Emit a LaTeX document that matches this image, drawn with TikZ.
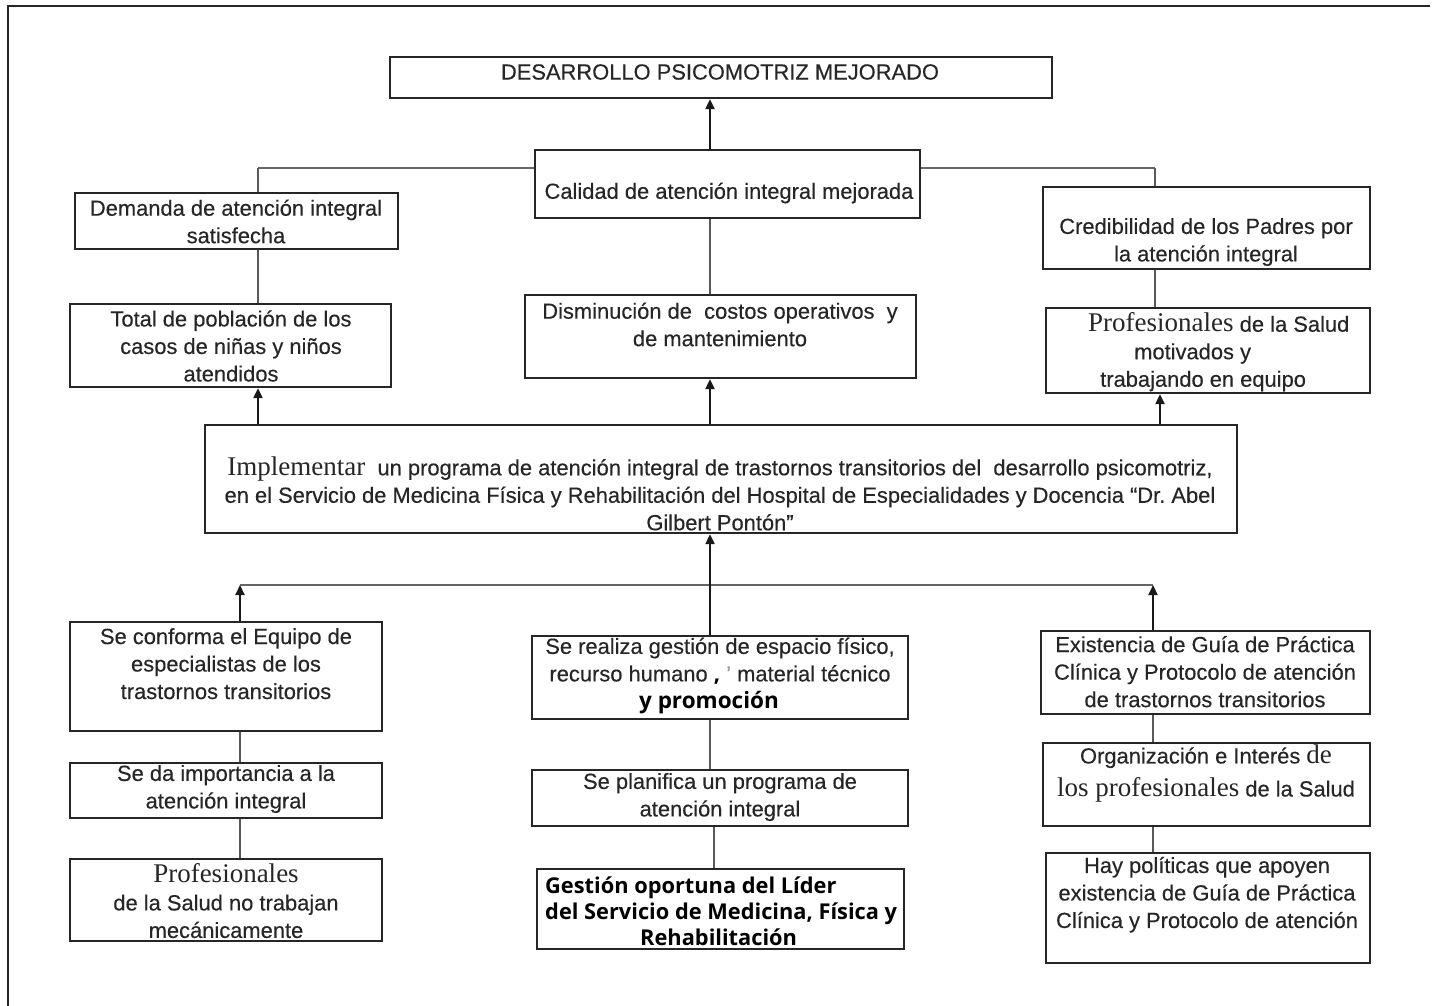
\documentclass[tikz,border=0pt]{standalone}
\usepackage{fontspec}
\setmainfont{Liberation Sans}[FakeBold=0.3]
\newfontfamily\serifnt{Liberation Serif}
\newfontfamily\boldnt{Open Sans}
\usetikzlibrary{arrows.meta,backgrounds}
\newcommand{\tnr}[1]{{\serifnt\fontsize{27}{27}\selectfont #1}}
\newcommand{\bld}[1]{{\boldnt\bfseries\color{black} #1}}
\begin{document}
\begin{tikzpicture}[x=1pt,y=-1pt,
  box/.style={draw=black!85, line width=2.4pt, fill=white, rectangle, inner sep=0pt},
  txt/.style={align=center, inner sep=0pt, text=black!85, font=\fontsize{21.9}{27.5}\selectfont},
  ln/.style={draw=black!65, line width=1.8pt},
  hline/.style={draw=black!60, line width=2.6pt},
  arr/.style={draw=black!90, line width=2.2pt, -{Triangle[length=10pt,width=9pt]}},
]
\useasboundingbox (0,0) rectangle (1433,1006);
% boxes
\node[box, minimum width=662pt, minimum height=41pt] (top) at (721,77.5) {};
\node[box, minimum width=385pt, minimum height=68pt] (calidad) at (727.5,184) {};
\node[box, minimum width=323pt, minimum height=56pt] (demanda) at (236.5,221) {};
\node[box, minimum width=327pt, minimum height=82pt] (cred) at (1206.5,228) {};
\node[box, minimum width=321pt, minimum height=83pt] (total) at (230.5,345.5) {};
\node[box, minimum width=391pt, minimum height=83pt] (dismin) at (720.5,336.5) {};
\node[box, minimum width=324pt, minimum height=85pt] (profm) at (1208,350.5) {};
\node[box, minimum width=1032pt, minimum height=108pt] (impl) at (721,479) {};
\node[box, minimum width=312pt, minimum height=109pt] (seconf) at (226,676.5) {};
\node[box, minimum width=376pt, minimum height=83pt] (serealiza) at (720,677.5) {};
\node[box, minimum width=312pt, minimum height=55pt] (seda) at (226,790.5) {};
\node[box, minimum width=376pt, minimum height=56pt] (seplan) at (720,798) {};
\node[box, minimum width=312pt, minimum height=82pt] (profno) at (226,900) {};
\node[box, minimum width=367pt, minimum height=80pt] (gestion) at (720.5,909) {};
\node[box, minimum width=329pt, minimum height=83pt] (exist) at (1205.5,672.5) {};
\node[box, minimum width=327pt, minimum height=83pt] (organ) at (1206.5,784.5) {};
\node[box, minimum width=324pt, minimum height=110pt] (hay) at (1208,908) {};
% texts
\node[txt] (top-t) at (720,72) {DESARROLLO PSICOMOTRIZ MEJORADO};
\node[txt] (calidad-t) at (729,193) {Calidad de atención integral mejorada};
\node[txt] (demanda-t) at (236,221.5) {Demanda de atención integral\\satisfecha};
\node[txt] (cred-t) at (1206,242) {Credibilidad de los Padres por\\la atención integral};
\node[txt] (total-t) at (231,346) {Total de población de los\\casos de niñas y niños\\atendidos};
\node[txt] (dismin-t) at (720,324.5) {Disminución de \ costos operativos \ y\\de mantenimiento};
\node[txt, align=left, anchor=west] (profm-t) at (1088,352) {\tnr{Profesionales} de la Salud\\\hspace*{46pt}motivados y\\\hspace*{12pt}trabajando en equipo};
\node[txt] (impl-t) at (720,493.5) {\tnr{Implementar}\ \ un programa de atención integral de trastornos transitorios del \ desarrollo psicomotriz,\\en el Servicio de Medicina Física y Rehabilitación del Hospital de Especialidades y Docencia “Dr.\ Abel\\Gilbert Pontón”};
\node[txt] (seconf-t) at (226,663.7) {Se conforma el Equipo de\\especialistas de los\\trastornos transitorios};
\node[txt] (serealiza-t) at (720,676) {Se realiza gestión de espacio físico,\\recurso humano \bld{,} \textcolor{black!40}{’} material técnico\\\bld{\fontsize{22.5}{27.5}\selectfont y promoción}\rule{22pt}{0pt}};
\node[txt] (seda-t) at (226,789) {Se da importancia a la\\atención integral};
\node[txt] (seplan-t) at (720,797) {Se planifica un programa de\\atención integral};
\node[txt] (profno-t) at (226,901) {\tnr{Profesionales}\\de la Salud no trabajan\\mecánicamente};
\node[txt, align=left, anchor=west, text=black, font=\boldnt\bfseries\fontsize{21.8}{26}\selectfont] (gestion-t) at (545,911) {Gestión oportuna del Líder\\del Servicio de Medicina, Física y\\\hspace*{95pt}Rehabilitación};
\node[txt] (exist-t) at (1205,671.7) {Existencia de Guía de Práctica\\Clínica y Protocolo de atención\\de trastornos transitorios};
\node[txt, font=\fontsize{21.9}{33}\selectfont] (organ-t) at (1206,773.5) {Organización e Interés \tnr{de}\\\tnr{los profesionales} de la Salud};
\node[txt] (hay-t) at (1207,894.7) {Hay políticas que apoyen\\existencia de Guía de Práctica\\Clínica y Protocolo de atención};
% connectors
\coordinate (xl) at (258,0);
\coordinate (xm) at (710,0);
\coordinate (xr) at (1155,0);
\coordinate (xr2) at (1160,0);
\coordinate (bl) at (240,0);
\coordinate (br) at (1153,0);
\coordinate (xg) at (714,0);
\coordinate (hl) at (258,168);
\coordinate (hr) at (1155,168);
\coordinate (bhl) at (240,585);
\coordinate (bhr) at (1153,585);
\begin{scope}[on background layer]
\fill[white] (0,0) rectangle (1433,1006);
\draw[line width=2pt, black!85] (1430,6) -- (8,6) -- (8,1006);
\draw[hline] (hl) -- (hr);
\draw[ln] (hl) -- (demanda.north -| xl);
\draw[ln] (hr) -- (cred.north -| xr);
\draw[ln] (demanda.south -| xl) -- (total.north -| xl);
\draw[ln] (calidad.south -| xm) -- (dismin.north -| xm);
\draw[ln] (cred.south -| xr) -- (profm.north -| xr);
\draw[arr] (calidad.north -| xm) -- (top.south -| xm);
\draw[arr] (impl.north -| xl) -- (total.south -| xl);
\draw[arr] (impl.north -| xm) -- (dismin.south -| xm);
\draw[arr] (impl.north -| xr2) -- (profm.south -| xr2);
\draw[hline] (bhl) -- (bhr);
\draw[arr] (seconf.north -| bl) -- (bhl);
\draw[arr] (exist.north -| br) -- (bhr);
\draw[arr] (serealiza.north -| xm) -- (impl.south -| xm);
\draw[ln] (seconf.south -| bl) -- (seda.north -| bl);
\draw[ln] (seda.south -| bl) -- (profno.north -| bl);
\draw[ln] (serealiza.south -| xm) -- (seplan.north -| xm);
\draw[ln] (seplan.south -| xg) -- (gestion.north -| xg);
\draw[ln] (exist.south -| br) -- (organ.north -| br);
\draw[ln] (organ.south -| br) -- (hay.north -| br);
\end{scope}
\end{tikzpicture}
\end{document}
